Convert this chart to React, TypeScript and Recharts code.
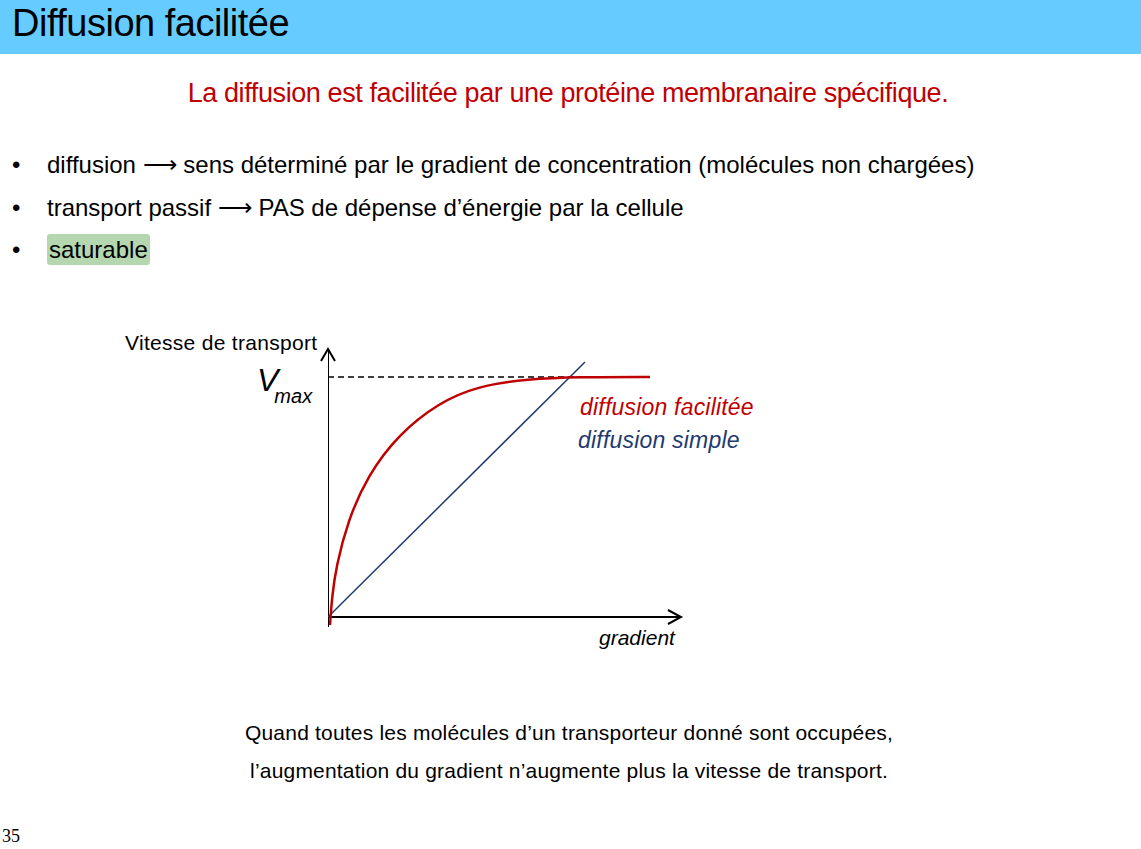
import { LineChart, Line, XAxis, YAxis, ReferenceLine } from "recharts";

// x: gradient (px-like units from origin), y: transport speed
const facilitatedX = [2, 4, 8, 20, 40, 70, 110, 150, 200, 250, 322];
const facilitatedY = [-8, 20, 50, 97, 142, 182, 214, 231, 238, 240, 240];
const simpleX = [0, 257];
const simpleY = [0, 255];
const vmax = 240;

const facilitated = facilitatedX.map((x, i) => ({ x, y: facilitatedY[i] }));
const simple = simpleX.map((x, i) => ({ x, y: simpleY[i] }));

const font = "'Liberation Sans', Arial, sans-serif";

export default function App() {
  return (
    <div style={{ position: "absolute", left: 0, top: 0, width: 1141, height: 849, background: "#fff", fontFamily: font, overflow: "hidden" }}>
      <div style={{ position: "absolute", left: 0, top: 0, width: 1141, height: 54, background: "#66ccff" }} />
      <div style={{ position: "absolute", left: 12, top: 2, fontSize: 38, color: "#000", letterSpacing: -0.5 }}>Diffusion facilitée</div>
      <div style={{ position: "absolute", left: 0, width: 1136, top: 78, textAlign: "center", fontSize: 27, color: "#c00000", letterSpacing: -0.4 }}>
        La diffusion est facilitée par une protéine membranaire spécifique.
      </div>
      {[
        "diffusion ⟶ sens déterminé par le gradient de concentration (molécules non chargées)",
        "transport passif ⟶ PAS de dépense d’énergie par la cellule",
      ].map((t, i) => (
        <div key={i} style={{ position: "absolute", left: 12, top: 151 + i * 43, fontSize: 24, letterSpacing: 0 }}>
          <span style={{ display: "inline-block", width: 35 }}>•</span>{t}
        </div>
      ))}
      <div style={{ position: "absolute", left: 12, top: 236, fontSize: 24 }}>
        <span style={{ display: "inline-block", width: 35 }}>•</span>
        <span style={{ background: "#b5d7b0", padding: "2px 2px", borderRadius: 3 }}>saturable</span>
      </div>

      <div style={{ position: "absolute", left: 125, top: 331, fontSize: 21, letterSpacing: 0.3 }}>Vitesse de transport</div>
      <div style={{ position: "absolute", left: 257, top: 362, fontSize: 32, fontStyle: "italic" }}>
        V<span style={{ fontSize: 20, position: "relative", top: 12, left: -4 }}>max</span>
      </div>
      <div style={{ position: "absolute", left: 580, top: 394, fontSize: 23, fontStyle: "italic", color: "#c00000", letterSpacing: 0.2 }}>diffusion facilitée</div>
      <div style={{ position: "absolute", left: 578, top: 427, fontSize: 23, fontStyle: "italic", color: "#1f3a6e", letterSpacing: 0.2 }}>diffusion simple</div>
      <div style={{ position: "absolute", left: 599, top: 626, fontSize: 21, fontStyle: "italic" }}>gradient</div>

      <div style={{ position: "absolute", left: 328, top: 350 }}>
        <LineChart width={352} height={277} margin={{ top: 0, right: 0, bottom: 0, left: 0 }}>
          <XAxis type="number" dataKey="x" domain={[0, 352]} hide />
          <YAxis type="number" dataKey="y" domain={[-10, 267]} hide />
          <ReferenceLine y={0} stroke="#000" strokeWidth={2} />
          <ReferenceLine x={0} stroke="#000" strokeWidth={2} />
          <ReferenceLine segment={[{ x: 0, y: vmax }, { x: 322, y: vmax }]} stroke="#000" strokeWidth={1.5} strokeDasharray="6 4" />
          <Line data={simple} dataKey="y" stroke="#1f3a6e" strokeWidth={1.5} dot={false} isAnimationActive={false} />
          <Line data={facilitated} dataKey="y" type="basis" stroke="#c00000" strokeWidth={2.5} dot={false} isAnimationActive={false} />
        </LineChart>
      </div>
      <svg style={{ position: "absolute", left: 0, top: 0 }} width={1141} height={849}>
        <polyline points="321,361 328,349 335,361" fill="none" stroke="#000" strokeWidth={2} />
        <polyline points="668,610 681,617 668,624" fill="none" stroke="#000" strokeWidth={2} />
      </svg>

      <div style={{ position: "absolute", left: 0, width: 1138, top: 714, textAlign: "center", fontSize: 21, lineHeight: "38px", letterSpacing: 0.2 }}>
        <div>Quand toutes les molécules d’un transporteur donné sont occupées,</div>
        <div>l’augmentation du gradient n’augmente plus la vitesse de transport.</div>
      </div>
      <div style={{ position: "absolute", left: 2, top: 826, fontSize: 18, fontFamily: "'Liberation Serif', serif" }}>35</div>
    </div>
  );
}
